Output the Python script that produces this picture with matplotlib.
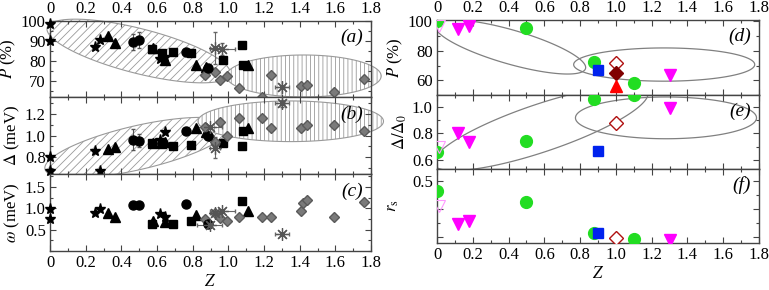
import numpy as np
import matplotlib
matplotlib.use("Agg")
import matplotlib.pyplot as plt
from matplotlib.patches import Polygon
from matplotlib.ticker import MultipleLocator, AutoMinorLocator, FixedLocator, FixedFormatter

plt.rcParams['font.family'] = 'serif'
plt.rcParams['font.serif'] = ['Liberation Serif', 'DejaVu Serif']
plt.rcParams['mathtext.fontset'] = 'stix'
plt.rcParams['font.size'] = 12
plt.rcParams['hatch.linewidth'] = 0.6

# ---- left panels: black/grey series (Z, P, Delta, omega) ----
star_z = [0.0, 0.0, 0.255, 0.28, 0.615, 0.645]
star_p = [98.5, 90.0, 87.0, 90.5, 81.0, 82.0]
star_d = [0.80, 0.667, 0.857, 0.667, 0.96, 1.03]
star_w = [0.98, 0.74, 0.88, 0.98, 0.86, 0.79]

tri_z = [0.325, 0.365, 0.575, 0.645, 0.82, 0.875, 1.11]
tri_p = [92.5, 89.0, 86.5, 80.5, 78.0, 77.0, 78.0]
tri_d = [0.876, 0.895, 0.93, 0.94, 1.07, 1.03, 1.07]
tri_w = [0.90, 0.79, 0.71, 0.67, 0.83, np.nan, 0.93]

circ_z = [0.465, 0.50, 0.76, 0.885]
circ_p = [89.5, 90.5, 84.5, 76.5]
circ_d = [0.96, 0.95, 1.04, 1.0]
circ_w = [1.07, 1.07, 1.10, 0.64]
circ_perr = [4.0, 4.0, 0, 0]
circ_derr = [0.10, 0.06, 0, 0]

sq_z = [0.57, 0.63, 0.69, 0.79, 0.97, 1.075, 1.085]
sq_p = [86.0, 84.0, 84.5, 84.0, 80.5, 88.0, 78.0]
sq_d = [0.93, 0.92, 0.90, 0.91, 0.93, 0.90, 1.04]
sq_w = [0.62, np.nan, 0.62, 0.71, np.nan, 1.17, np.nan]

dia_z = [0.87, 0.89, 0.925, 0.955, 0.995, 1.06, 1.19, 1.24, 1.41, 1.42, 1.44, 1.59, 1.76]
dia_p = [73.0, np.nan, 74.5, 70.5, 72.5, 66.5, 62.0, 73.0, 67.5, np.nan, 68.0, 64.5, 71.0]
dia_d = [1.08, 1.0, 0.94, 1.13, 1.0, 1.16, 1.16, 1.07, 1.07, np.nan, 1.10, 1.10, 1.04]
dia_w = [0.74, np.nan, 0.88, 0.76, 0.71, 0.79, 0.79, 0.79, 0.93, 1.12, 1.20, 0.79, 1.14]

ast_z = [0.895, 0.925, 0.965, 1.30]
ast_zerr = [0.07, 0.03, 0.07, 0.04]
ast_p = [np.nan, 86.5, 86.0, 67.0]
ast_perr = [0, 8.0, 3.0, 0]
ast_d = [1.08, 0.886, np.nan, 1.30]
ast_derr = [0, 0.1, 0, 0.03]
ast_w = [0.60, 0.88, 0.93, 0.40]

# ---- right panels: coloured series (Z, P, Delta/Delta0, r_s) ----
grn_z = [0.0, 0.5, 0.875, 1.1]
grn_p = [100.0, 95.3, 72.7, 58.0]
grn_d = [0.66, 0.745, 1.06, 1.09]
grn_r = [0.464, 0.425, 0.314, 0.293]

mag_z = [0.12, 0.18, 1.3]
mag_p = [94.7, 96.7, 63.3]
mag_d = [0.80, 0.735, 0.99]
mag_r = [0.346, 0.357, 0.289]

omag_z = [0.01]
omag_p = [97.0]
omag_d = [0.70]
omag_r = [0.41]

blue_z = [0.9]
blue_p = [66.7]
blue_d = [0.668]
blue_r = [0.314]

odia_z = [1.0]
odia_p = [72.0]
odia_d = [0.88]
odia_r = [0.296]

fdia_z = [1.0]
fdia_p = [64.7]

red_z = [1.0]
red_p = [56.0]

# ellipses: centre, half-axis vector to the side tip, vertical half-thickness
ell_a1 = ((0.497, 85.0), (0.514, -11.0), (0.0, 11.5))
ell_a2 = ((1.423, 72.5), (0.434, 0.0), (0.0, 10.5))
ell_b1 = ((0.491, 0.886), (0.52, 0.19), (0.0, 0.21))
ell_b2 = ((1.35, 1.133), (0.52, 0.0), (0.0, 0.19))
ell_d1 = ((0.41, 82.7), (0.421, -14.0), (0.0, 12.0))
ell_d2 = ((1.27, 70.7), (0.506, 0.0), (0.0, 11.3))
ell_e1 = ((0.58, 0.84), (0.60, 0.26), (0.0, 0.19))
ell_e2 = ((1.28, 0.917), (0.506, 0.0), (0.0, 0.158))


def ellipse(ax, e, clip=True, **kw):
    c, u, v = e
    t = np.linspace(0, 2 * np.pi, 300)
    x = c[0] + np.cos(t) * u[0] + np.sin(t) * v[0]
    y = c[1] + np.cos(t) * u[1] + np.sin(t) * v[1]
    p = Polygon(np.column_stack([x, y]), closed=True, **kw)
    ax.add_patch(p)
    p.set_clip_on(clip)


def style(ax, top_labels=False, bottom_labels=False):
    ax.set_xlim(0, 1.8)
    ax.xaxis.set_major_locator(MultipleLocator(0.2))
    ax.xaxis.set_minor_locator(MultipleLocator(0.1))
    ax.yaxis.set_minor_locator(AutoMinorLocator(2))
    ax.tick_params(which='both', direction='in', top=True, right=True,
                   labeltop=top_labels, labelbottom=bottom_labels,
                   color='#444444', width=0.8, pad=3)
    ax.tick_params(which='major', length=4)
    ax.tick_params(which='minor', length=2.5)
    ax.xaxis.set_major_formatter(plt.FuncFormatter(lambda v, p: '0' if abs(v) < 1e-9 else '%.1f' % v))
    for s in ax.spines.values():
        s.set_color('#444444')
        s.set_linewidth(1.0)


fig = plt.figure(figsize=(7.69, 2.90), dpi=100)
L, W = 50 / 769, 321 / 769
R, WR = 437 / 769, 322 / 769
axa = fig.add_axes([L, (290 - 97) / 290, W, 76 / 290])
axb = fig.add_axes([L, (290 - 174) / 290, W, 77 / 290])
axc = fig.add_axes([L, (290 - 251) / 290, W, 77 / 290])
axd = fig.add_axes([R, (290 - 95) / 290, WR, 75 / 290])
axe = fig.add_axes([R, (290 - 169) / 290, WR, 74 / 290])
axf = fig.add_axes([R, (290 - 243) / 290, WR, 74 / 290])

hatch_kw = dict(edgecolor='#9a9a9a', linewidth=0.8)

# (a)
ellipse(axa, ell_a1, clip=False, facecolor='white', hatch='////', zorder=1, **hatch_kw)
ellipse(axa, ell_a2, clip=False, facecolor='white', hatch='||||', zorder=1.1, **hatch_kw)
# (b)
ellipse(axb, ell_b1, clip=False, facecolor='white', hatch='////', zorder=1, **hatch_kw)
ellipse(axb, ell_b2, clip=False, facecolor='white', hatch='||||', zorder=1.1, **hatch_kw)

mk = dict(linestyle='none', zorder=3, clip_on=False)
for ax, ys in ((axa, (star_p, tri_p, circ_p, sq_p, dia_p, ast_p)),
               (axb, (star_d, tri_d, circ_d, sq_d, dia_d, ast_d)),
               (axc, (star_w, tri_w, circ_w, sq_w, dia_w, ast_w))):
    ax.plot(star_z, ys[0], marker='*', ms=8, color='black', **mk)
    ax.plot(tri_z, ys[1], marker='^', ms=6.5, color='black', **mk)
    ax.plot(sq_z, ys[3], marker='s', ms=5.5, color='black', **mk)
    ax.plot(dia_z, ys[4], marker='D', ms=5.5, color='#7a7a7a', mec='#5a5a5a', **mk)
    ax.plot(circ_z, ys[2], marker='o', ms=6.5, color='black', **mk)

axa.errorbar(circ_z, circ_p, yerr=circ_perr, fmt='none', ecolor='#555555', elinewidth=0.8, capsize=1.5, zorder=2.5)
axb.errorbar(circ_z, circ_d, yerr=circ_derr, fmt='none', ecolor='#555555', elinewidth=0.8, capsize=1.5, zorder=2.5)
for ax, ys, ye in ((axa, ast_p, ast_perr), (axb, ast_d, ast_derr), (axc, ast_w, None)):
    ax.errorbar(ast_z, ys, xerr=ast_zerr, yerr=ye, fmt='none', ecolor='#666666',
                elinewidth=0.8, capsize=1.5, zorder=2.6)
    ax.plot(ast_z, ys, marker=(8, 2, 0), ms=9, color='#555555', mew=0.9, **mk)

# right panels
ellipse(axd, ell_d1, facecolor='none', edgecolor='#808080', linewidth=0.9, zorder=1)
ellipse(axd, ell_d2, facecolor='none', edgecolor='#808080', linewidth=0.9, zorder=1)
ellipse(axe, ell_e1, facecolor='none', edgecolor='#808080', linewidth=0.9, zorder=1)
ellipse(axe, ell_e2, facecolor='none', edgecolor='#808080', linewidth=0.9, zorder=1)

for ax, g, m, om, b, od in ((axd, grn_p, mag_p, omag_p, blue_p, odia_p),
                            (axe, grn_d, mag_d, omag_d, blue_d, odia_d),
                            (axf, grn_r, mag_r, omag_r, blue_r, odia_r)):
    ax.plot(grn_z, g, marker='o', ms=8.5, color='#22dd22', mec='#22dd22', linestyle='none', zorder=3)
    ax.plot(mag_z, m, marker='v', ms=8.5, color='#ff00ff', linestyle='none', zorder=3)
    ax.plot(omag_z, om, marker='v', ms=8.5, mfc='none', mec='#ff99ff', mew=0.8, linestyle='none', zorder=3)
    ax.plot(blue_z, b, marker='s', ms=7, color='#0022ee', linestyle='none', zorder=3)
    ax.plot(odia_z, od, marker='D', ms=7, mfc='white', mec='#b01010', mew=1.0, linestyle='none', zorder=3)
axd.plot(fdia_z, fdia_p, marker='D', ms=7, color='#800000', linestyle='none', zorder=3)
axd.plot(red_z, red_p, marker='^', ms=8.5, color='#ff0000', linestyle='none', zorder=3)

# axes styling
style(axa, top_labels=True)
style(axb)
style(axc, bottom_labels=True)
style(axd, top_labels=True)
style(axe)
style(axf, bottom_labels=True)

axa.set_ylim(62, 100)
axa.yaxis.set_major_locator(MultipleLocator(10))
axb.set_ylim(0.64, 1.36)
axb.yaxis.set_major_locator(FixedLocator([0.8, 1.0, 1.2]))
axc.set_ylim(0.0, 1.8)
axc.yaxis.set_major_locator(FixedLocator([0.5, 1.0, 1.5]))
axd.set_ylim(50, 101)
axd.yaxis.set_major_locator(MultipleLocator(20))
axe.set_ylim(0.53, 1.09)
axe.yaxis.set_major_locator(MultipleLocator(0.2))
axf.set_ylim(0.279, 0.543)
axf.yaxis.set_major_locator(FixedLocator([0.3, 0.4, 0.5]))
axf.yaxis.set_major_formatter(FixedFormatter(['', '', '0.5']))

axa.set_ylabel(r'$P$ (%)', labelpad=2)
axb.set_ylabel(r'$\Delta$ (meV)', labelpad=2)
axc.set_ylabel(r'$\omega$ (meV)', labelpad=2)
axd.set_ylabel(r'$P$ (%)', labelpad=2)
axe.set_ylabel(r'$\Delta/\Delta_0$', labelpad=2)
axf.set_ylabel(r'$r_{\rm s}$', labelpad=8)
axc.set_xlabel(r'$Z$', labelpad=2)
axf.set_xlabel(r'$Z$', labelpad=2)

for ax, lab in ((axa, 'a'), (axb, 'b'), (axc, 'c'), (axd, 'd'), (axe, 'e'), (axf, 'f')):
    ax.text(0.975, 0.78, '(%s)' % lab, transform=ax.transAxes, ha='right', va='center',
            fontsize=14, fontstyle='italic', zorder=5)

fig.savefig('out.png', dpi=100)
